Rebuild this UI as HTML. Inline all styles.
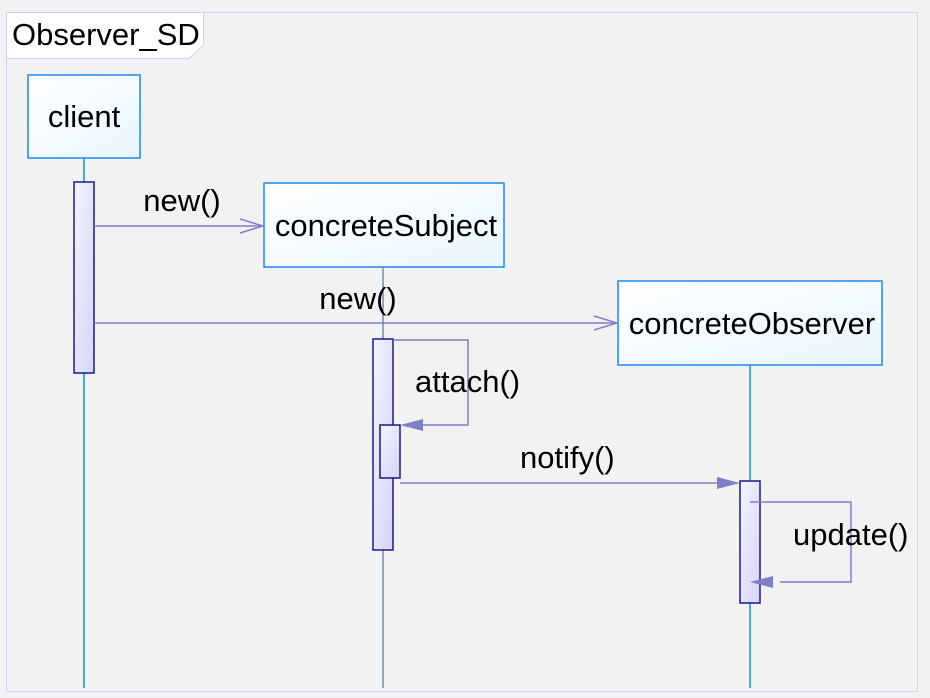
<!DOCTYPE html>
<html><head><meta charset="utf-8"><style>
html,body{margin:0;padding:0;background:#f2f2f2;}
svg{display:block;font-family:"Liberation Sans",Arial,sans-serif;}
</style></head><body>
<svg width="930" height="698" viewBox="0 0 930 698" xmlns="http://www.w3.org/2000/svg">
<defs>
<linearGradient id="bx" x1="0" y1="0" x2="1" y2="1"><stop offset="0" stop-color="#ffffff"/><stop offset="1" stop-color="#e8f6fe"/></linearGradient>
<linearGradient id="ac" x1="0" y1="0" x2="1" y2="1"><stop offset="0" stop-color="#f4f4ff"/><stop offset="1" stop-color="#d4d4f8"/></linearGradient>
</defs>
<rect x="0" y="0" width="930" height="698" fill="#f2f2f2"/>
<rect x="6.5" y="12.5" width="911" height="679" fill="none" stroke="#d0d0e8" stroke-width="1"/>
<path d="M6.5 12.5 H203.5 V45 L189 58.5 H6.5 Z" fill="#fff" stroke="#d0d0e8"/>
<text x="12" y="45" font-size="31" fill="#000">Observer_SD</text>

<line x1="84" y1="158" x2="84" y2="688" stroke="#1e88f0" stroke-width="1.5"/>
<line x1="383" y1="267" x2="383" y2="688" stroke="#445577" stroke-width="1"/>
<line x1="750" y1="365" x2="750" y2="688" stroke="#1e88f0" stroke-width="1.5"/>

<rect x="28" y="75" width="112" height="83" fill="url(#bx)" stroke="#1e88f0" stroke-width="1.5"/>
<text x="84" y="127" font-size="31" text-anchor="middle">client</text>
<rect x="264" y="183" width="240" height="84" fill="url(#bx)" stroke="#1e88f0" stroke-width="1.5"/>
<text x="386" y="236" font-size="31" text-anchor="middle">concreteSubject</text>
<rect x="618" y="281" width="264" height="84" fill="url(#bx)" stroke="#1e88f0" stroke-width="1.5"/>
<text x="752" y="334" font-size="31" text-anchor="middle">concreteObserver</text>

<rect x="74" y="182" width="20" height="191" fill="url(#ac)" stroke="#1a1a88" stroke-width="1.5"/>
<rect x="373" y="339" width="20" height="211" fill="url(#ac)" stroke="#1a1a88" stroke-width="1.5"/>
<rect x="380" y="425" width="20" height="53" fill="url(#ac)" stroke="#1a1a88" stroke-width="1.5"/>
<rect x="740" y="481" width="20" height="122" fill="url(#ac)" stroke="#1a1a88" stroke-width="1.5"/>

<g stroke="#8080c8" stroke-width="1.5" fill="none">
<line x1="94" y1="226" x2="263" y2="226"/>
<polyline points="240,219 263,226 240,233"/>
<line x1="94" y1="323" x2="617" y2="323"/>
<polyline points="594,316 617,323 594,330"/>
<polyline points="393,340 468,340 468,425 420,425"/>
<line x1="400" y1="483" x2="720" y2="483"/>
<polyline points="750,502 851,502 851,582 780,582"/>
</g>
<g fill="#8080c8">
<polygon points="400,425 423,419 423,431"/>
<polygon points="740,483 717,477 717,489"/>
<polygon points="750,582 773,576 773,588"/>
</g>
<text x="182" y="211" font-size="31" text-anchor="middle">new()</text>
<text x="358" y="309" font-size="31" text-anchor="middle">new()</text>
<text x="415" y="392" font-size="31">attach()</text>
<text x="520" y="468" font-size="31">notify()</text>
<text x="793" y="545" font-size="31">update()</text>
</svg>
</body></html>
